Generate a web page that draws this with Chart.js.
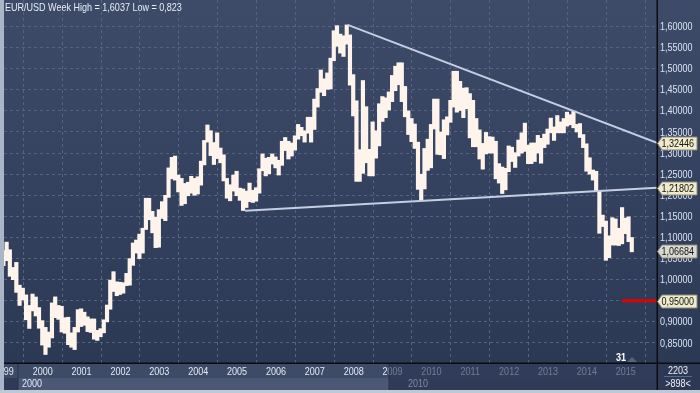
<!DOCTYPE html>
<html><head><meta charset="utf-8">
<script src="https://cdn.jsdelivr.net/npm/chart.js@4.4.1/dist/chart.umd.min.js"></script>
<style>html,body{margin:0;padding:0;background:#2d3a56;overflow:hidden}canvas{display:block}</style>
</head><body><canvas id="c" width="700" height="393"></canvas>
<script>
// ---------------- data (EUR/USD, monthly high/low) ----------------
const TITLE = 'EUR/USD Week High = 1,6037 Low = 0,823';
const firstYear = 1999, firstMonth = 9;   // first bar: Sep 1999
const high = [
  1.069,1.089,1.071,1.029,                                                    // 1999 Sep-Dec
  1.041,0.987,0.980,0.964,0.939,0.966,0.959,0.934,0.903,0.887,0.876,0.945,    // 2000
  0.9593,0.939,0.937,0.910,0.911,0.874,0.887,0.929,0.931,0.923,0.912,0.907,   // 2001
  0.907,0.880,0.884,0.905,0.940,0.999,1.019,0.995,0.994,0.993,1.015,1.050,    // 2002
  1.087,1.094,1.108,1.122,1.193,1.193,1.162,1.148,1.166,1.185,1.200,1.265,    // 2003
  1.290,1.293,1.248,1.240,1.228,1.231,1.245,1.240,1.244,1.281,1.330,1.3667,   // 2004
  1.353,1.325,1.348,1.312,1.296,1.240,1.225,1.248,1.257,1.217,1.215,1.210,    // 2005
  1.229,1.212,1.218,1.263,1.298,1.288,1.290,1.298,1.291,1.283,1.328,1.337,    // 2006
  1.328,1.324,1.341,1.368,1.361,1.353,1.385,1.385,1.428,1.453,1.497,1.476,    // 2007
  1.490,1.525,1.590,1.602,1.582,1.578,1.6037,1.580,1.486,1.424,1.308,1.472,   // 2008
  1.410,1.309,1.374,1.353,1.417,1.434,1.431,1.445,1.484,1.506,1.514,1.514,    // 2009
  1.458,1.400,1.382,1.369,1.326,1.250,1.311,1.333,1.368,1.428,1.428,1.350,    // 2010
  1.379,1.386,1.425,1.494,1.494,1.470,1.454,1.455,1.441,1.425,1.382,1.355,    // 2011
  1.323,1.349,1.339,1.338,1.328,1.275,1.267,1.264,1.317,1.314,1.301,1.331,    // 2012
  1.348,1.371,1.319,1.324,1.324,1.342,1.335,1.345,1.357,1.383,1.362,1.389,    // 2013
  1.374,1.382,1.397,1.391,1.399,1.368,1.370,1.344,1.322,1.289,1.260,1.257,    // 2014
  1.210,1.153,1.139,1.104,1.147,1.144,1.122,1.171,1.146,1.149,1.100           // 2015 Jan-Nov
];
const low = [
  1.033,1.045,1.008,1.000,
  0.970,0.939,0.952,0.905,0.8845,0.926,0.914,0.885,0.845,0.8228,0.840,0.862,
  0.910,0.906,0.876,0.873,0.846,0.840,0.8344,0.876,0.889,0.892,0.877,0.875,
  0.859,0.856,0.865,0.874,0.900,0.930,0.972,0.962,0.965,0.968,0.986,0.987,
  1.034,1.063,1.050,1.063,1.119,1.142,1.111,1.076,1.077,1.145,1.140,1.195,
  1.239,1.236,1.208,1.176,1.180,1.199,1.205,1.200,1.203,1.224,1.272,1.326,
  1.294,1.273,1.287,1.277,1.234,1.193,1.187,1.210,1.199,1.188,1.164,1.171,
  1.185,1.183,1.186,1.205,1.258,1.246,1.251,1.274,1.265,1.248,1.271,1.306,
  1.286,1.293,1.307,1.333,1.341,1.326,1.347,1.326,1.356,1.409,1.444,1.436,
  1.451,1.452,1.519,1.553,1.537,1.529,1.558,1.461,1.388,1.233,1.233,1.252,
  1.277,1.246,1.246,1.288,1.317,1.375,1.384,1.402,1.422,1.448,1.462,1.422,
  1.386,1.344,1.327,1.311,1.214,1.1876,1.215,1.259,1.265,1.357,1.297,1.296,
  1.287,1.343,1.373,1.409,1.397,1.401,1.384,1.405,1.336,1.315,1.315,1.286,
  1.262,1.298,1.300,1.300,1.239,1.229,1.2042,1.213,1.256,1.280,1.266,1.293,
  1.300,1.304,1.275,1.275,1.280,1.300,1.276,1.313,1.321,1.348,1.330,1.348,
  1.348,1.348,1.364,1.367,1.360,1.350,1.337,1.313,1.257,1.250,1.236,1.210,
  1.110,1.126,1.046,1.052,1.082,1.082,1.081,1.085,1.109,1.090,1.066
];
const yTicks = [0.85,0.90,0.95,1.00,1.05,1.10,1.15,1.20,1.25,1.30,1.35,1.40,1.45,1.50,1.55,1.60];
const yearLabels = [1999,2000,2001,2002,2003,2004,2005,2006,2007,2008,2009,2010,2011,2012,2013,2014,2015];
const yearTickShift = 0.72;          // where the chart places each year label (in years)
const X_MIN = 1999.7244, X_MAX = 2016.524, Y_MIN = 0.8026, Y_MAX = 1.6628;
// trend lines: anchor point and value at the right edge
const resistance = [{x: 2008.567, y: 1.6037}, {x: X_MAX, y: 1.32446}];
const support    = [{x: 2005.925, y: 1.1635}, {x: X_MAX, y: 1.21802}];
const redLevel = 0.95, redLevelFrom = 2015.62;
const tagValues = [1.32446, 1.21802, 1.06684, 0.95];
const tagFill   = ['#efeacb', '#efeacb', '#d9d9d2', '#efeacb'];
const navLabels = ['2000', '2010'];
const cornerTexts = ['2203', '>898<'];

// ---------------- fonts ----------------
function hasFont(name){
  const c = document.createElement('canvas').getContext('2d');
  c.font = '20px monospace'; const a = c.measureText('1,60000 EUR/USD').width;
  c.font = '20px "' + name + '", monospace'; return c.measureText('1,60000 EUR/USD').width !== a;
}
const NARROW = hasFont('Liberation Sans Narrow');
function txt(ctx, s, x, y, align, color, bold){
  ctx.save();
  ctx.fillStyle = color; ctx.textBaseline = 'middle'; ctx.textAlign = align;
  if (NARROW){
    ctx.font = (bold ? 'bold ' : '') + '11px "Liberation Sans Narrow"';
    ctx.fillText(s, x, y);
  } else {
    ctx.font = (bold ? 'bold ' : '') + '11px "Liberation Sans", Arial, sans-serif';
    ctx.translate(x, y); ctx.scale(0.82, 1); ctx.fillText(s, 0, 0);
  }
  ctx.restore();
}
const fmt5 = v => v.toFixed(5).replace('.', ',');

// ---------------- build datasets ----------------
const monthPos = i => firstYear + (firstMonth - 1 + i + 0.5) / 12;
const bars = high.map((h, i) => ({x: monthPos(i), y: [low[i], h]}));

const deco = {
  id: 'deco',
  beforeDraw(chart){
    const c = chart.ctx;
    const g = c.createLinearGradient(0, 0, 0, 363);
    g.addColorStop(0, '#3d4b69'); g.addColorStop(1, '#2c3955');
    c.save(); c.fillStyle = g; c.fillRect(0, 0, 700, 393); c.restore();
  },
  afterDraw(chart){
    const c = chart.ctx, xs = chart.scales.x, ys = chart.scales.y, a = chart.chartArea;
    const B = a.bottom, R = a.right;
    c.save();
    // bottom time panel
    c.fillStyle = '#3e4b67'; c.fillRect(0, B, R, 15);
    c.fillStyle = '#303c57'; c.fillRect(0, B + 15, R, 12);
    c.fillStyle = '#4a5876'; c.fillRect(18, B + 15, 371, 12);
    c.save(); c.beginPath(); c.rect(a.left, B, R - a.left, 15); c.clip();
    yearLabels.forEach(y => {
      const px = xs.getPixelForValue(y + yearTickShift);
      txt(c, String(y), px, B + 9, 'center', '#e2e9f6');
    });
    c.restore();
    c.fillStyle = 'rgba(40,52,80,0.62)'; c.fillRect(389, B, R - 389, 15);
    c.fillStyle = '#26304a'; c.fillRect(17.5, B, 1, 27); c.fillRect(388.5, B, 1, 27);
    txt(c, navLabels[0], 22, B + 20.5, 'left', '#e2e9f6');
    txt(c, navLabels[1], 408, B + 20.5, 'left', '#7f8aa0');
    // frame strips
    c.fillStyle = '#aab5c7'; c.fillRect(0, 0, 4, 393);
    c.fillStyle = '#bfc8d6'; c.fillRect(0, 390, 700, 3);
    // corner box
    c.fillStyle = '#2d3954'; c.fillRect(R, B, 700 - R, 27);
    txt(c, cornerTexts[0], 678, B + 7.5, 'center', '#eef2fa');
    c.fillStyle = '#5d6a84'; c.fillRect(664, B + 13, 28, 1);
    txt(c, cornerTexts[1], 678, B + 21, 'center', '#eef2fa');
    // axis lines
    c.strokeStyle = '#0b0c12'; c.lineWidth = 1.5;
    c.beginPath(); c.moveTo(R + 0.25, 0); c.lineTo(R + 0.25, 390); c.stroke();
    c.beginPath(); c.moveTo(a.left, B + 0.25); c.lineTo(700, B + 0.25); c.stroke();
    // y labels
    yTicks.forEach(v => txt(c, fmt5(v), R + 3, ys.getPixelForValue(v) + 0.5, 'left', '#dbe3f2'));
    // value tags
    tagValues.forEach((v, i) => {
      const y = Math.round(ys.getPixelForValue(v)) + 0.5;
      c.beginPath();
      c.moveTo(R + 0.5, y); c.lineTo(R + 5, y - 6.5); c.lineTo(697, y - 6.5);
      c.lineTo(697, y + 6.5); c.lineTo(R + 5, y + 6.5); c.closePath();
      c.fillStyle = tagFill[i]; c.fill();
      c.strokeStyle = '#8d8a78'; c.lineWidth = 1; c.stroke();
      txt(c, fmt5(v), R + 4.5, y + 0.5, 'left', '#141414');
    });
    // bar counter marker
    txt(c, '31', 621, B - 5, 'center', '#ffffff', true);
    c.fillStyle = '#56627a';
    c.beginPath(); c.moveTo(627, B - 1); c.lineTo(632, B - 6); c.lineTo(637, B - 1); c.closePath(); c.fill();
    // title
    txt(c, TITLE, 5, 7.5, 'left', '#e8eef8');
    c.restore();
  }
};

new Chart(document.getElementById('c'), {
  type: 'bar',
  data: {
    datasets: [
      {type: 'bar', data: bars, backgroundColor: '#fff4ec', borderWidth: 0, barThickness: 3.5, grouped: false, order: 2},
      {type: 'line', data: resistance, borderColor: '#c6cee4', borderWidth: 2, pointRadius: 0, order: 1},
      {type: 'line', data: support, borderColor: '#c6cee4', borderWidth: 2, pointRadius: 0, order: 1},
      {type: 'line', data: [{x: redLevelFrom, y: redLevel}, {x: X_MAX, y: redLevel}], borderColor: '#e00000', borderWidth: 3, pointRadius: 0, order: 0}
    ]
  },
  options: {
    responsive: false, animation: false, devicePixelRatio: 1,
    layout: {padding: {left: 4, top: 0, right: 0, bottom: 0}},
    plugins: {legend: {display: false}, tooltip: {enabled: false}, title: {display: false}},
    scales: {
      x: {
        type: 'linear', min: X_MIN, max: X_MAX, offset: false,
        grid: {color: '#55637f', lineWidth: 1, drawTicks: false},
        border: {display: false, dash: [3, 3]},
        ticks: {display: false},
        afterBuildTicks: s => { s.ticks = yearLabels.map(y => y + yearTickShift).filter(v => v > X_MIN).map(v => ({value: v})); },
        afterFit: s => { s.height = 30; }
      },
      y: {
        type: 'linear', position: 'right', min: Y_MIN, max: Y_MAX,
        grid: {color: '#55637f', lineWidth: 1, drawTicks: false},
        border: {display: false, dash: [3, 3]},
        ticks: {display: false},
        afterBuildTicks: s => { s.ticks = yTicks.map(v => ({value: v})); },
        afterFit: s => { s.width = 43; }
      }
    }
  },
  plugins: [deco]
});
</script>
</body></html>
